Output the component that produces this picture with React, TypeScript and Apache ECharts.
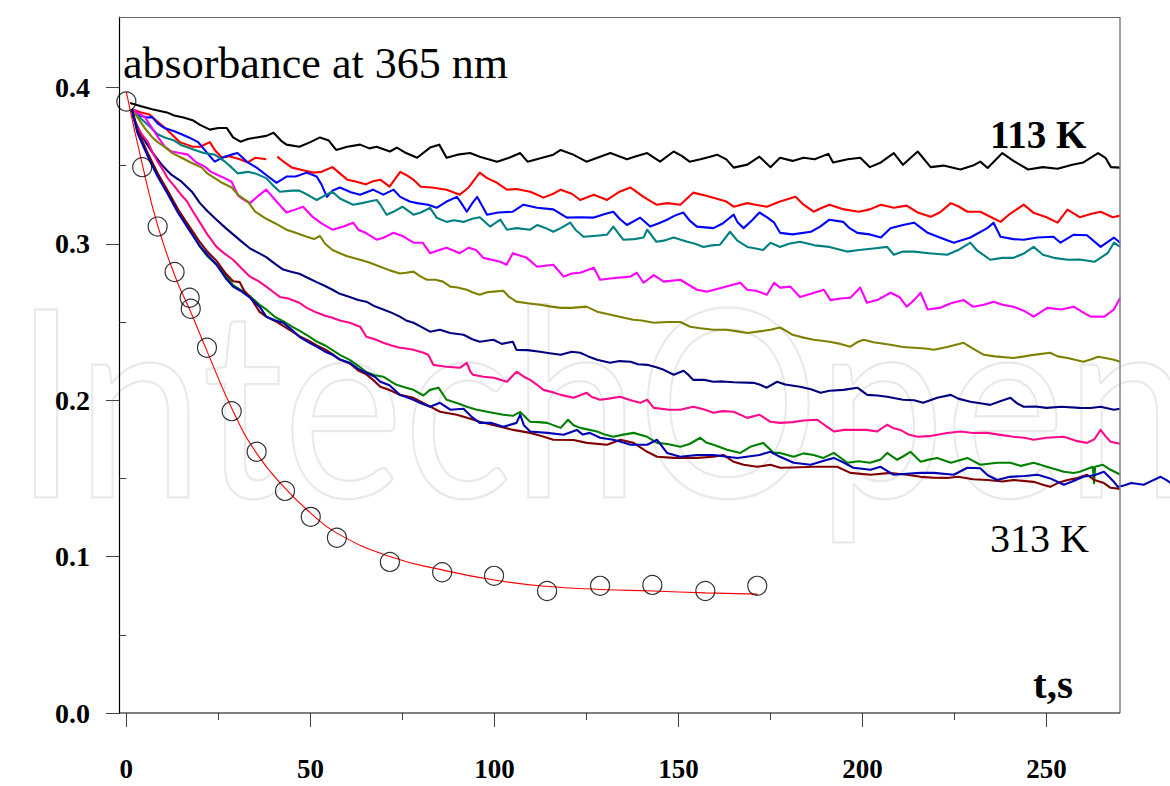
import React, { useEffect, useRef } from "react";
import * as echarts from "echarts";

// ---- axis ticks ----
const xTickValues = [0, 50, 100, 150, 200, 250];
const xMinorTickValues = [25, 75, 125, 175, 225];
const yTickValues = [0, 0.1, 0.2, 0.3, 0.4];
const yMinorTickValues = [0.05, 0.15, 0.25, 0.35];

// ---- open circles (measured points) ----
const circleT = [0, 4.3, 8.5, 13.1, 17.2, 17.5, 21.9, 28.6, 35.4, 43.1, 50.1, 57.2, 71.6, 85.8, 99.9, 114.3, 128.7, 142.9, 157.3, 171.4];
const circleA = [0.391, 0.349, 0.311, 0.282, 0.2655, 0.2585, 0.2335, 0.193, 0.167, 0.142, 0.1254, 0.112, 0.0966, 0.09, 0.0877, 0.078, 0.0813, 0.0819, 0.078, 0.0813];

// ---- red fit line through the circles ----
const fitT = [0, 4.5, 8.6, 13.6, 17.2, 21.8, 29, 35.4, 42.6, 50, 57.2, 71.6, 85.8, 100, 114, 128.7, 143, 157.3, 171.5];
const fitA = [0.397, 0.349, 0.311, 0.277, 0.258, 0.232, 0.193, 0.166, 0.145, 0.128, 0.115, 0.1, 0.0915, 0.085, 0.081, 0.079, 0.078, 0.0768, 0.076];

// ---- kinetic traces [t, absorbance] ----
const curveBlack = [[1,0.390],[4,0.388],[7,0.386],[11,0.384],[13,0.382],[15.5,0.3807],[18,0.379],[20,0.376],[22.7,0.373],[25,0.374],[27.3,0.374],[29,0.368],[31,0.3653],[33,0.367],[35.4,0.368],[38,0.369],[40,0.371],[42,0.366],[43.5,0.3634],[47,0.362],[50,0.365],[52.6,0.368],[55,0.366],[57,0.360],[60,0.362],[63.5,0.3634],[66,0.361],[68,0.362],[71.6,0.359],[73.5,0.3615],[76,0.358],[79,0.355],[82.5,0.3615],[85,0.3634],[87,0.355],[90,0.357],[93.4,0.358],[96,0.3557],[100.7,0.3525],[104,0.355],[107,0.358],[109,0.3525],[113,0.355],[116,0.357],[118,0.360],[121.4,0.357],[125,0.3525],[128.7,0.3557],[131.5,0.358],[136,0.354],[138.5,0.356],[141.5,0.358],[145,0.3525],[148.7,0.359],[151,0.356],[153,0.3525],[156,0.354],[158.6,0.3557],[160.5,0.357],[163,0.354],[165,0.3487],[168.7,0.3506],[172,0.3557],[175,0.349],[177.6,0.355],[181,0.353],[184,0.355],[187,0.354],[190.7,0.3575],[192,0.352],[196,0.354],[199.4,0.355],[202,0.349],[205,0.352],[208.5,0.358],[211,0.3505],[215,0.359],[218.5,0.349],[222,0.350],[226.6,0.3475],[230,0.350],[232,0.3525],[234,0.3485],[238,0.358],[241,0.353],[245,0.3475],[249,0.349],[253,0.348],[257,0.3505],[260,0.352],[264,0.358],[266,0.355],[267.5,0.349],[270,0.3487]];

const curveRed = [[1.5,0.386],[4,0.384],[6.3,0.3826],[8.5,0.378],[11,0.373],[14.5,0.365],[18,0.362],[20,0.362],[22.7,0.365],[24,0.360],[26,0.355],[28,0.356],[30.8,0.354],[33,0.352],[35,0.355],[38,0.354],[39.5,"-"],[41,0.3557],[43,0.352],[45,0.3487],[48,0.347],[50.7,0.3455],[53,0.346],[56,0.349],[58,0.345],[60,0.341],[62,0.340],[65,0.338],[67,0.340],[69,0.341],[71.5,0.3365],[74.4,0.346],[76,0.344],[78,0.341],[80,0.3365],[83,0.336],[87,0.3346],[90.6,0.3314],[93,0.336],[96,0.3455],[98,0.342],[100.7,0.339],[103.4,0.3346],[106,0.335],[109.7,0.3333],[111,0.332],[113.3,0.3295],[116,0.332],[118,0.3346],[121,0.332],[123.3,0.328],[127,0.3314],[130.6,0.328],[134,0.3333],[136.9,0.336],[140.5,0.330],[144,0.325],[147,0.326],[150.5,0.325],[154,0.3327],[157,0.331],[159.5,0.3295],[163,0.327],[165,0.3237],[168.7,0.326],[171,0.325],[174,0.3237],[177.6,0.327],[181.8,0.330],[184,0.325],[186.7,0.3205],[189,0.323],[191,0.325],[195,0.322],[199,0.3205],[202,0.322],[205,0.325],[208.5,0.323],[212,0.3244],[215,0.320],[218.5,0.3173],[221,0.320],[224,0.326],[226,0.324],[228.5,0.3205],[232,0.3205],[235,0.317],[237.5,0.314],[240,0.319],[243.8,0.325],[246.5,0.3198],[250,0.317],[253,0.3135],[255.7,0.3218],[259,0.317],[262,0.319],[264.7,0.3205],[268,0.317],[270,0.318]];

const curveBlue = [[1.5,0.386],[3.5,0.382],[5.8,0.3807],[7,0.381],[8.5,0.377],[10.4,0.374],[13,0.372],[15,0.370],[17,0.368],[19.5,0.365],[22,0.358],[24,0.3525],[26.7,0.3557],[28.5,0.357],[30.2,0.358],[33,0.352],[35.4,0.3487],[38,0.344],[40.8,0.339],[43.5,0.343],[46,0.343],[49,0.3455],[51.7,0.343],[53,0.338],[54.5,0.330],[56,0.334],[58,0.336],[61,0.333],[63.5,0.3314],[67,0.3346],[69.8,0.3314],[72.6,0.3346],[74.4,0.330],[77,0.327],[79,0.326],[82,0.325],[84.3,0.323],[87,0.327],[89.8,0.330],[91,0.326],[92.5,0.3205],[94,0.326],[95.3,0.330],[96.5,0.325],[98,0.3186],[101,0.320],[105,0.3205],[107.9,0.325],[111.6,0.323],[116,0.322],[119.7,0.3167],[123,0.317],[126.8,0.3167],[130,0.319],[132.3,0.3205],[134,0.316],[136,0.312],[139.6,0.3167],[142.3,0.311],[144.5,0.313],[146.9,0.3154],[149,0.318],[151.3,0.320],[153,0.315],[155,0.311],[159.5,0.310],[162,0.313],[165,0.3186],[166,0.314],[167.7,0.310],[170,0.315],[172,0.320],[174,0.317],[176,0.3135],[177.6,0.307],[181,0.306],[186,0.3077],[188.5,0.311],[191,0.3154],[194.8,0.314],[196.5,0.310],[198.6,0.307],[202,0.306],[205,0.304],[207.6,0.310],[211,0.312],[214,0.3135],[216,0.310],[217.7,0.307],[221,0.304],[224.8,0.3007],[229.3,0.304],[233.9,0.310],[235.6,0.3135],[237.5,0.3045],[241,0.303],[243.8,0.3026],[247.5,0.304],[251.9,0.3045],[253.8,0.3007],[257.4,0.3058],[261,0.3055],[264.7,0.298],[268.3,0.304],[270,0.3007]];

const curveTeal = [[1.5,0.386],[4,0.380],[5.9,0.376],[8.5,0.370],[10.4,0.368],[13,0.366],[15,0.363],[18.6,0.360],[21,0.358],[24,0.357],[26.8,0.3525],[28.5,0.349],[30.3,0.345],[33,0.346],[35,0.345],[38,0.342],[40,0.337],[41.7,0.3333],[45,0.334],[47,0.334],[49.5,0.331],[51.7,0.328],[54,0.331],[56,0.3333],[58,0.329],[61.6,0.325],[64,0.326],[66,0.327],[68,0.328],[69,0.325],[70.7,0.3186],[73,0.321],[75,0.3237],[78,0.3186],[80,0.320],[82.5,0.323],[84.3,0.3167],[87,0.314],[89,0.315],[91.6,0.314],[94,0.316],[96,0.317],[98.8,0.311],[101.6,0.3154],[103.4,0.309],[106,0.310],[109.7,0.309],[111.6,0.312],[114,0.310],[116,0.3077],[118,0.310],[120.6,0.3135],[122,0.309],[124.2,0.3045],[127,0.305],[130.6,0.3058],[132.3,0.311],[135,0.3026],[138,0.303],[140.5,0.304],[141.5,0.309],[144,0.3013],[146,0.302],[148.7,0.304],[152.4,0.3013],[154.5,0.300],[156.8,0.298],[159,0.299],[161.3,0.2994],[164,0.3077],[166,0.302],[168.7,0.298],[171,0.297],[173,0.296],[175,0.3007],[177.6,0.298],[180,0.300],[183,0.3013],[187,0.299],[191,0.298],[195.8,0.295],[199,0.296],[203,0.297],[206.7,0.298],[208.5,0.293],[211,0.295],[214,0.295],[218,0.294],[223,0.293],[226,0.296],[229.3,0.3007],[231,0.296],[234.7,0.2898],[238,0.291],[241,0.291],[244,0.294],[246.5,0.298],[249,0.293],[252,0.291],[255.8,0.2898],[259,0.290],[263,0.2885],[266.6,0.294],[268.3,0.3007],[270,0.298]];

const curveMagenta = [[1.5,0.386],[3.5,0.383],[5,0.381],[7,0.374],[8.5,0.3685],[10.5,0.362],[12.3,0.359],[14.5,0.358],[16.7,0.357],[19,0.352],[21.3,0.3493],[23,0.346],[24.8,0.344],[26.7,0.342],[28.6,0.3397],[30.3,0.331],[32,0.328],[33.6,0.326],[36,0.331],[38,0.3346],[40.8,0.327],[43.5,0.320],[46,0.322],[48,0.3237],[50.7,0.317],[53,0.313],[56,0.309],[59,0.311],[61.6,0.3135],[63,0.309],[65,0.307],[68,0.3026],[70,0.304],[72.5,0.307],[75,0.305],[78,0.3007],[80.5,0.3007],[82.5,0.294],[85,0.296],[87,0.2975],[90.6,0.294],[93,0.2975],[95,0.296],[97,0.291],[101.6,0.2885],[103.3,0.2866],[105,0.294],[108.8,0.291],[111.6,0.2853],[116,0.2866],[118.8,0.279],[121,0.281],[123.3,0.2815],[127,0.2847],[128.7,0.277],[132,0.278],[136.9,0.279],[138.7,0.2815],[140.5,0.2751],[143.3,0.280],[146,0.2758],[150.5,0.277],[155,0.2706],[157.7,0.2694],[162,0.272],[166.8,0.2751],[168.7,0.2706],[171,0.270],[174,0.2674],[176,0.2751],[177.6,0.272],[180.4,0.2726],[183,0.266],[186,0.268],[189.5,0.2706],[191.3,0.264],[194,0.265],[196.7,0.2655],[199.4,0.272],[201.2,0.2623],[204,0.264],[207.6,0.2687],[210,0.266],[212,0.2598],[214,0.264],[215.8,0.2687],[217.7,0.258],[221,0.259],[224,0.262],[227.5,0.264],[230,0.2598],[233,0.261],[235.6,0.263],[238,0.261],[241,0.2598],[244,0.257],[246.5,0.2534],[250.2,0.259],[254,0.258],[257.4,0.2598],[260,0.256],[262,0.2534],[265.7,0.2534],[268.3,0.258],[270,0.2655]];

const curveOlive = [[1.5,0.386],[3,0.381],[5,0.374],[6.9,0.3685],[8.5,0.365],[10.4,0.362],[12.5,0.358],[15,0.355],[17.5,0.352],[20.5,0.3487],[22,0.345],[24,0.342],[26,0.339],[28.6,0.336],[30.5,0.331],[33,0.327],[35,0.3205],[38,0.316],[40.5,0.313],[43.5,0.309],[46,0.307],[49,0.3045],[51,0.303],[52.6,0.305],[54,0.300],[56,0.296],[58,0.294],[60,0.292],[63.5,0.2898],[66,0.288],[69,0.2853],[71.6,0.283],[74.3,0.281],[76,0.2815],[78,0.2822],[80,0.279],[81.7,0.277],[84,0.277],[86,0.2758],[88,0.2726],[90,0.272],[92.5,0.2706],[94,0.269],[96,0.2674],[98,0.269],[99.7,0.2694],[102.4,0.270],[104,0.266],[106,0.263],[109,0.262],[112.4,0.261],[115,0.260],[118,0.259],[121,0.259],[125,0.2598],[127.9,0.2566],[131,0.255],[134,0.2534],[137.7,0.2514],[140,0.251],[143.3,0.2495],[147,0.250],[150.5,0.250],[153.2,0.247],[156,0.246],[159.5,0.245],[163,0.245],[166,0.244],[168.7,0.243],[172,0.244],[175,0.245],[177.6,0.2465],[179.5,0.244],[181,0.2418],[184,0.240],[186.7,0.2386],[189,0.238],[191,0.2374],[194,0.236],[196.7,0.2342],[198.5,0.237],[200.3,0.2386],[203,0.237],[207.6,0.2354],[211,0.234],[214,0.2335],[217,0.233],[219.4,0.2322],[223,0.234],[227.5,0.2367],[230,0.233],[233,0.229],[236,0.228],[241,0.227],[244,0.228],[246.5,0.229],[251,0.2303],[253,0.228],[255.7,0.227],[260,0.2246],[262,0.226],[264,0.2278],[266,0.227],[268.3,0.2258],[270,0.2246]];

const curveNavy = [[1.5,0.3826],[4,0.370],[5.5,0.364],[6.9,0.359],[8.5,0.354],[9.6,0.3506],[11,0.347],[12.3,0.344],[15,0.3397],[17.8,0.3333],[20,0.326],[22,0.321],[24.5,0.3154],[27,0.310],[29,0.306],[31,0.302],[33.6,0.297],[36,0.294],[38,0.2915],[40.5,0.287],[42.6,0.2835],[45,0.282],[47,0.2808],[49.5,0.278],[51.7,0.2755],[54,0.273],[56,0.2706],[58,0.268],[60.7,0.266],[63,0.264],[65.2,0.263],[67.5,0.260],[69.8,0.258],[72,0.256],[74.3,0.2534],[76,0.251],[78,0.2495],[80,0.247],[82.5,0.2438],[85.2,0.245],[88,0.243],[91.6,0.2418],[94,0.239],[96,0.2374],[99.7,0.2386],[102,0.236],[105,0.2374],[106,0.2322],[109,0.232],[112.4,0.231],[115,0.230],[118,0.229],[121,0.231],[123.3,0.2303],[125.5,0.228],[127.9,0.2258],[131.4,0.2239],[134,0.225],[137,0.2246],[139,0.223],[141.5,0.2226],[144,0.221],[146,0.2194],[148.7,0.2163],[151.4,0.2188],[152.8,0.216],[154,0.213],[157,0.213],[159.5,0.2118],[162,0.212],[165,0.2115],[170.4,0.2111],[172,0.210],[174,0.208],[176.8,0.2118],[179,0.210],[183,0.2086],[186,0.207],[188.6,0.2047],[191,0.206],[194.8,0.2066],[198.6,0.208],[201.3,0.2034],[204,0.203],[206.7,0.2022],[211,0.2003],[214,0.200],[216.5,0.1983],[220.3,0.2015],[224,0.2034],[226,0.201],[229.3,0.199],[232,0.198],[234.7,0.197],[237,0.199],[240.2,0.2015],[242,0.198],[243.8,0.1958],[247,0.196],[250,0.1951],[254,0.1958],[259,0.1951],[262,0.195],[264.7,0.1958],[268.3,0.1939],[270,0.1945]];

const curvePink = [[1.5,0.385],[3,0.3743],[4.5,0.369],[5.8,0.3653],[7,0.359],[8.5,0.3525],[10,0.347],[11.2,0.342],[13,0.337],[15,0.331],[16.5,0.327],[18,0.321],[20,0.3135],[22,0.306],[24.5,0.298],[26.5,0.294],[29,0.2898],[31,0.285],[33.6,0.279],[36,0.276],[38,0.2726],[40,0.269],[41.7,0.266],[44,0.265],[47,0.2623],[49,0.259],[51.7,0.256],[54,0.254],[56,0.2527],[58,0.251],[60.7,0.2495],[63.5,0.247],[65.2,0.2406],[67.5,0.239],[69.8,0.2367],[72,0.235],[74.3,0.2335],[76,0.233],[78,0.2322],[80.7,0.2303],[82,0.229],[83.4,0.2226],[85,0.222],[87,0.2214],[90.6,0.2207],[92.5,0.2239],[93.5,0.218],[94.2,0.2163],[97,0.215],[99.8,0.2143],[103.4,0.2118],[106,0.2182],[108,0.215],[109.7,0.213],[111.5,0.210],[113.3,0.2066],[116,0.205],[118,0.2034],[121.5,0.2015],[125.1,0.2047],[126.5,0.202],[128.7,0.2003],[131,0.201],[134.2,0.2022],[137,0.200],[139.6,0.1983],[141.5,0.2003],[143.3,0.1951],[147,0.194],[150.5,0.1939],[154,0.1958],[157,0.194],[159.5,0.192],[162,0.193],[165,0.1926],[168.7,0.1887],[172,0.1907],[175,0.1862],[177.6,0.1855],[181,0.186],[184,0.187],[187.7,0.1875],[190.4,0.183],[192.2,0.180],[195,0.181],[198.6,0.181],[201,0.181],[204,0.180],[206.7,0.1843],[208.5,0.182],[210.3,0.181],[212.5,0.178],[214.9,0.1766],[218,0.177],[220.3,0.1779],[223,0.179],[226.6,0.180],[230,0.179],[233.9,0.1791],[237,0.178],[241,0.1766],[244,0.176],[246.5,0.1747],[250,0.176],[254.7,0.1766],[258,0.174],[261,0.1727],[263,0.175],[264.7,0.181],[266,0.177],[267.4,0.1734],[270,0.1721]];

const curveGreen = [[1.5,0.386],[3,0.372],[5.8,0.357],[8.5,0.345],[11.2,0.3335],[14,0.322],[17,0.310],[20,0.298],[22,0.292],[24.5,0.2866],[27,0.280],[29,0.2735],[31,0.2705],[33.6,0.2665],[36.2,0.261],[38,0.258],[40.5,0.253],[42.6,0.2505],[45,0.247],[47,0.2445],[49.5,0.241],[51.7,0.2375],[54,0.235],[56,0.232],[58,0.229],[60.7,0.2258],[63,0.222],[65.2,0.218],[67.5,0.216],[69.8,0.215],[71.5,0.2125],[73.4,0.2098],[76,0.208],[78,0.2066],[80.7,0.203],[82.5,0.2066],[84.8,0.208],[87,0.2003],[90,0.198],[92.5,0.1958],[95,0.194],[98,0.1926],[102.4,0.1907],[105,0.190],[107,0.1925],[109.7,0.1862],[112,0.186],[114.3,0.1855],[118,0.1823],[120,0.1875],[121.5,0.184],[123.3,0.1823],[127.9,0.180],[130,0.178],[132.3,0.1766],[135,0.178],[137.8,0.1791],[141.5,0.1766],[144.2,0.1727],[147,0.172],[150.5,0.1702],[153,0.172],[155.9,0.176],[157.5,0.173],[159.5,0.1715],[163.2,0.1683],[166.8,0.1663],[169.5,0.1702],[173,0.1727],[175.9,0.1663],[177.6,0.1663],[181.3,0.1638],[184,0.166],[186.7,0.165],[189.4,0.1631],[192.2,0.1663],[195.9,0.160],[199,0.161],[202,0.160],[204.9,0.162],[206.7,0.1663],[209.4,0.1619],[211,0.164],[213,0.167],[215.8,0.1606],[218,0.162],[220.3,0.1631],[224,0.160],[228.5,0.1631],[232,0.1587],[236.6,0.160],[240.2,0.160],[243,0.158],[246.5,0.160],[251,0.1568],[254.7,0.1542],[257.4,0.1535],[259,0.1542],[262.6,0.1574],[262.9,0.147],[263.2,0.1574],[265.3,0.1587],[267.4,0.1555],[270,0.1525]];

const curveBlue313 = [[1.5,0.386],[3,0.371],[5.8,0.356],[8.5,0.343],[11.2,0.332],[14,0.320],[17,0.309],[20,0.2985],[22,0.293],[24.5,0.2866],[27,0.278],[29,0.2726],[31,0.270],[33.6,0.2655],[36.2,0.2598],[38,0.2534],[40.5,0.251],[42.6,0.2495],[45,0.245],[47,0.2405],[49.5,0.237],[51.7,0.2342],[54,0.231],[56,0.229],[58,0.226],[60.7,0.2239],[63,0.220],[65.2,0.2175],[67.5,0.215],[69,0.2118],[71.5,0.2095],[74.3,0.2034],[76,0.202],[78,0.2003],[80,0.198],[82.5,0.1958],[85.2,0.1983],[88,0.1939],[91.6,0.1945],[94,0.189],[96,0.1855],[99,0.1855],[102.4,0.183],[106,0.1855],[107,0.1907],[108,0.184],[109.7,0.180],[114.3,0.1791],[118.8,0.1779],[122.4,0.181],[124,0.178],[125.9,0.1791],[128.7,0.176],[132.3,0.1747],[135,0.173],[137,0.1715],[141.5,0.1715],[144.2,0.1747],[146.9,0.1663],[150.5,0.1638],[155,0.165],[159.5,0.165],[163.2,0.1638],[166,0.163],[169,0.164],[172,0.165],[175,0.167],[177.6,0.1638],[181.3,0.160],[185.9,0.1587],[190.4,0.1619],[192.2,0.1631],[195,0.160],[197.5,0.1568],[202.2,0.1555],[204.9,0.1574],[208.5,0.1523],[212,0.153],[215.8,0.1535],[219.4,0.1535],[224.8,0.1523],[228.5,0.1568],[232,0.1565],[234,0.152],[236.6,0.149],[240,0.151],[244,0.1515],[247.6,0.1523],[251,0.150],[254.7,0.1459],[257,0.148],[260,0.151],[263,0.152],[265.6,0.1542],[268.3,0.1478],[269.4,0.1446],[271,0.1455],[273,0.1471],[276.4,0.1459],[278,0.1478],[281,0.151],[282.5,0.149],[283.8,0.147]];

const curveMaroon = [[1.5,0.386],[3,0.373],[5.8,0.358],[8.5,0.345],[11.2,0.334],[14,0.322],[17,0.3115],[20,0.301],[22,0.295],[24.5,0.289],[27,0.281],[29,0.276],[30.8,0.2755],[32,0.270],[33.6,0.266],[36.2,0.2565],[38,0.2534],[40.5,0.2505],[42.6,0.2475],[45,0.244],[47,0.241],[49.5,0.238],[51.7,0.235],[54,0.2325],[56,0.2295],[58,0.226],[60.7,0.2235],[63,0.219],[65.2,0.2165],[67.5,0.212],[69,0.2086],[71.5,0.2065],[74.3,0.2034],[78,0.2015],[81.7,0.197],[85.2,0.1926],[89.8,0.1907],[93,0.1885],[96,0.1862],[101.6,0.183],[105.1,0.181],[109.7,0.1791],[113,0.177],[116,0.1747],[121.5,0.1745],[125.1,0.1727],[130.6,0.1715],[134.2,0.1747],[137.8,0.1727],[141.5,0.167],[144.2,0.1638],[148.7,0.1631],[155,0.1631],[159.5,0.1638],[162.2,0.165],[165,0.1606],[167.7,0.1587],[171.4,0.1574],[175,0.1587],[177.6,0.1568],[181,0.157],[186.7,0.1574],[193.1,0.1574],[196.7,0.1535],[202.2,0.1523],[207.6,0.1535],[212,0.1523],[215.8,0.151],[219,0.1505],[223,0.1503],[226,0.151],[230,0.1495],[234,0.149],[238,0.148],[241,0.149],[246.5,0.1478],[249,0.146],[251,0.1446],[253,0.147],[255.7,0.149],[258,0.150],[261,0.1523],[263,0.149],[265.6,0.147],[267.4,0.144],[270,0.1433]];

const traceColors = ["#000000", "#ff0000", "#0000ff", "#008080", "#ff00ff", "#808000", "#000080", "#ff0a8c", "#008000", "#800000", "#0000b4"];
const traces = [curveBlack, curveRed, curveBlue, curveTeal, curveMagenta, curveOlive, curveNavy, curvePink, curveGreen, curveMaroon, curveBlue313];

const SERIF = "'Liberation Serif', 'Times New Roman', serif";

// frame geometry (pixels)
const FRAME_L = 119, FRAME_R = 1120, FRAME_T = 17, FRAME_B = 713;

export default function App() {
  const ref = useRef<HTMLDivElement>(null);
  useEffect(() => {
    if (!ref.current) return;
    const chart = echarts.init(ref.current, null, { renderer: "svg" });
    const lineSeries = traces.map((data, i) => ({
      type: "line",
      data,
      symbol: "none",
      showSymbol: false,
      connectNulls: false,
      lineStyle: { color: traceColors[i], width: 2.1, join: "round" },
      itemStyle: { color: traceColors[i] },
      z: 2,
    }));
    const option: any = {
      animation: false,
      backgroundColor: "#ffffff",
      grid: { left: FRAME_L, right: 2, top: FRAME_T, bottom: 786 - FRAME_B, show: false, outerBoundsMode: "none", containLabel: false },
      xAxis: [
        {
          type: "value", min: -2, max: 283,
          axisLine: { show: false },
          axisTick: { show: true, customValues: xTickValues, length: 14, lineStyle: { color: "#444", width: 1 } },
          axisLabel: { customValues: xTickValues, margin: 42, fontFamily: SERIF, fontWeight: "bold", fontSize: 27, color: "#000" },
          splitLine: { show: false },
        },
        {
          type: "value", min: -2, max: 283, position: "bottom",
          axisLine: { show: false },
          axisTick: { show: true, customValues: xMinorTickValues, length: 7, lineStyle: { color: "#444", width: 1 } },
          axisLabel: { show: false },
          splitLine: { show: false },
        },
      ],
      yAxis: [
        {
          type: "value", min: 0, max: 0.445,
          axisLine: { show: true, onZero: false, lineStyle: { color: "#000", width: 1.2 } },
          axisTick: { show: true, customValues: yTickValues, length: 13, lineStyle: { color: "#444", width: 1 } },
          axisLabel: { customValues: yTickValues, margin: 29, formatter: (v: number) => v.toFixed(1), fontFamily: SERIF, fontWeight: "bold", fontSize: 28, color: "#000" },
          splitLine: { show: false },
        },
        {
          type: "value", min: 0, max: 0.445, position: "left",
          axisLine: { show: false },
          axisTick: { show: true, customValues: yMinorTickValues, length: 7, lineStyle: { color: "#444", width: 1 } },
          axisLabel: { show: false },
          splitLine: { show: false },
        },
      ],
      graphic: [
        {
          type: "text", x: 14, y: 396, scaleY: 1.15, z: -10, silent: true,
          style: { text: "IntechOpen", fontSize: 228, fontFamily: "Lato", fill: "none", stroke: "#e9e9e9", lineWidth: 2, verticalAlign: "middle" },
        },
        { type: "line", z: 5, silent: true, shape: { x1: FRAME_L, y1: FRAME_T + 0.5, x2: FRAME_R, y2: FRAME_T + 0.5 }, style: { stroke: "#666", lineWidth: 1 } },
        { type: "line", z: 5, silent: true, shape: { x1: FRAME_R, y1: FRAME_T, x2: FRAME_R, y2: FRAME_B }, style: { stroke: "#808080", lineWidth: 1.5 } },
        { type: "line", z: 5, silent: true, shape: { x1: FRAME_L, y1: FRAME_B, x2: FRAME_R, y2: FRAME_B }, style: { stroke: "#000", lineWidth: 1.2 } },
        { type: "text", x: 123, y: 63, z: 10, style: { text: "absorbance at 365 nm", fontSize: 44, fontFamily: SERIF, fill: "#000", verticalAlign: "middle" } },
        { type: "text", x: 990, y: 134, z: 10, style: { text: "113 K", fontSize: 39, fontWeight: "bold", fontFamily: SERIF, fill: "#000", verticalAlign: "middle" } },
        { type: "text", x: 990, y: 538, z: 10, style: { text: "313 K", fontSize: 40, fontFamily: SERIF, fill: "#000", verticalAlign: "middle" } },
        { type: "text", x: 1033, y: 684, z: 10, style: { text: "t,s", fontSize: 41, fontWeight: "bold", fontFamily: SERIF, fill: "#000", verticalAlign: "middle" } },
      ],
      series: [
        ...lineSeries,
        {
          type: "line",
          data: fitT.map((t, i) => [t, fitA[i]]),
          smooth: 0.5,
          symbol: "none",
          lineStyle: { color: "#ff0000", width: 1.1 },
          z: 3,
        },
        {
          type: "scatter",
          data: circleT.map((t, i) => [t, circleA[i]]),
          symbol: "circle",
          symbolSize: 19,
          clip: false,
          itemStyle: { color: "rgba(0,0,0,0)", borderColor: "#000", borderWidth: 1.2 },
          z: 4,
        },
      ],
    };
    chart.setOption(option);
    return () => chart.dispose();
  }, []);
  return <div ref={ref} style={{ position: "fixed", left: 0, top: 0, width: 1170, height: 786, background: "#fff" }} />;
}
